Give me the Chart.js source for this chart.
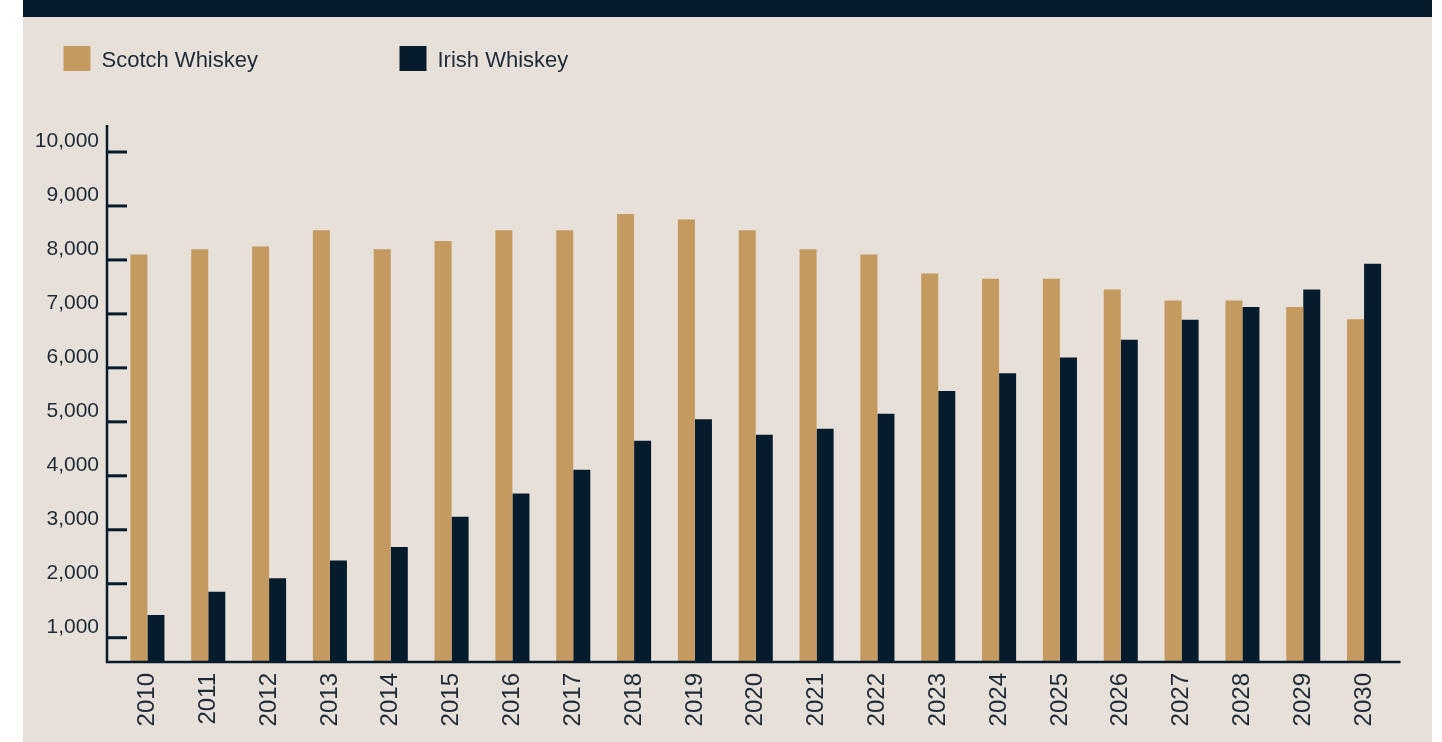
<!DOCTYPE html>
<html><head><meta charset="utf-8">
<script src="https://cdn.jsdelivr.net/npm/chart.js@4.4.1/dist/chart.umd.min.js"></script>
<style>
html,body{margin:0;padding:0;background:#fff;width:1442px;height:742px;overflow:hidden}
#panel{position:absolute;left:23px;top:0;width:1409px;height:742px;background:#e7e0d9}
#band{position:absolute;left:23px;top:0;width:1409px;height:17px;background:#061c2c}
#wrap{position:absolute;left:0;top:0;width:1442px;height:742px}
</style></head><body>
<div id="panel"></div><div id="band"></div>
<div id="wrap"><canvas id="c"></canvas></div>
<script>
const years = ['2010','2011','2012','2013','2014','2015','2016','2017','2018','2019','2020','2021','2022','2023','2024','2025','2026','2027','2028','2029','2030'];
const scotch = [8100,8200,8250,8550,8200,8350,8550,8550,8850,8750,8550,8200,8100,7750,7650,7650,7450,7250,7250,7130,6900];
const irish = [1420,1850,2100,2430,2680,3240,3670,4110,4650,5050,4760,4870,5150,5570,5900,6190,6520,6890,7130,7450,7930];
const yTicks = [1000,2000,3000,4000,5000,6000,7000,8000,9000,10000];
const seriesNames = ['Scotch Whiskey','Irish Whiskey'];
const yMin = 550, yMax = 10500;

const NAVY = '#061c2c', TAN = '#c49a61', TEXT = '#1d2a37';
const FONT = '"Liberation Sans", Arial, Helvetica, sans-serif';

const axesPlugin = {
  id: 'customAxes',
  afterDraw(chart) {
    const ctx = chart.ctx, ca = chart.chartArea, ys = chart.scales.y;
    const axX = ca.left - 10;
    ctx.save();
    ctx.strokeStyle = NAVY;
    ctx.lineWidth = 2.5;
    ctx.beginPath();
    ctx.moveTo(axX, ca.top); ctx.lineTo(axX, ca.bottom + 1);
    ctx.moveTo(axX - 1, ca.bottom); ctx.lineTo(ca.right + 6, ca.bottom);
    ctx.stroke();
    ctx.lineWidth = 3;
    yTicks.forEach(v => {
      const py = ys.getPixelForValue(v);
      ctx.beginPath(); ctx.moveTo(axX, py); ctx.lineTo(axX + 20, py); ctx.stroke();
    });
    // legend
    const items = [{x: 63.5, c: TAN}, {x: 399.5, c: NAVY}];
    ctx.font = '22px ' + FONT;
    ctx.textBaseline = 'middle';
    ctx.textAlign = 'left';
    items.forEach((it, i) => {
      ctx.fillStyle = it.c;
      ctx.fillRect(it.x, 46, 27, 25);
      ctx.fillStyle = TEXT;
      ctx.fillText(seriesNames[i], it.x + 38, 61);
    });
    ctx.restore();
  }
};

new Chart(document.getElementById('c'), {
  type: 'bar',
  data: {
    labels: years,
    datasets: [
      {label: seriesNames[0], data: scotch, backgroundColor: TAN, base: yMin, barPercentage: 1, categoryPercentage: 0.56},
      {label: seriesNames[1], data: irish, backgroundColor: NAVY, base: yMin, barPercentage: 1, categoryPercentage: 0.56}
    ]
  },
  options: {
    responsive: true,
    maintainAspectRatio: false,
    animation: false,
    devicePixelRatio: 1,
    layout: {padding: {top: 125, right: 47.5, left: 0, bottom: 0}},
    plugins: {legend: {display: false}, tooltip: {enabled: false}},
    scales: {
      x: {
        grid: {display: false, drawTicks: false},
        border: {display: false},
        ticks: {color: TEXT, font: {family: FONT, size: 24}, minRotation: 90, maxRotation: 90, padding: 11, autoSkip: false},
        afterFit(s) { s.height = 80; }
      },
      y: {
        min: yMin, max: yMax,
        grid: {display: false, drawTicks: false},
        border: {display: false},
        afterBuildTicks(s) { s.ticks = yTicks.map(v => ({value: v})); },
        ticks: {color: TEXT, font: {family: FONT, size: 21}, padding: 18, labelOffset: -11,
          callback: v => v.toLocaleString('en-US')},
        afterFit(s) { s.width = 117; }
      }
    }
  },
  plugins: [axesPlugin]
});
</script>
</body></html>
